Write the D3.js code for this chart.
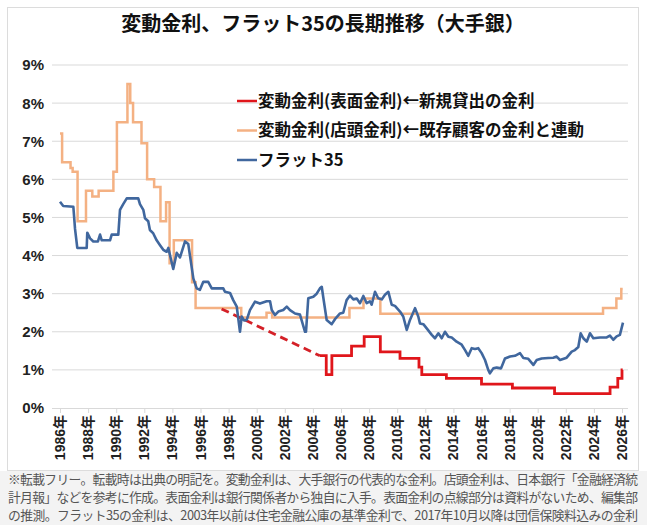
<!DOCTYPE html>
<meta charset="utf-8">
<style>
body { margin: 0; background: #fff; }
text { font-family: "Liberation Sans", "Noto Sans CJK JP", sans-serif; }
.cjk { font-family: "Noto Sans CJK JP", sans-serif; }
</style>
<svg width="647" height="525"></svg>
<script src="https://d3js.org/d3.v7.min.js"></script>
<script>

// tick labels
var xTicks = [1986,1988,1990,1992,1994,1996,1998,2000,2002,2004,2006,2008,2010,2012,2014,2016,2018,2020,2022,2024,2026];
var yTicks = [0,1,2,3,4,5,6,7,8,9];

// 変動金利(表面金利) : dashed guess part + step data
var hyomenDash = [[1997.5,2.6],[2004.5,1.37]];
var hyomen = [[2004.5,1.375],[2004.95,0.875],[2005.35,1.375],[2006.75,1.625],[2007.65,1.875],[2008.8,1.475],
  [2010.2,1.3],[2011.55,1.075],[2011.75,0.875],[2013.5,0.775],[2016.0,0.625],[2018.2,0.525],[2021.2,0.375],
  [2025.15,0.55],[2025.7,0.775],[2026.0,1.0],[2026.05,1.0]];

// 変動金利(店頭金利) : step data
var tento = [[1986.0,7.2],[1986.15,6.45],[1986.75,6.3],[1986.9,6.2],[1987.25,4.9],[1987.85,5.7],[1988.3,5.55],
  [1988.75,5.7],[1989.8,6.2],[1990.05,7.5],[1990.8,8.5],[1991.0,8.0],[1991.2,7.5],[1991.8,6.95],[1992.2,6.0],
  [1992.7,5.8],[1993.15,4.9],[1993.55,5.4],[1993.8,3.8],[1994.1,4.4],[1995.4,3.3],[1995.65,2.625],[1998.9,2.375],
  [2000.7,2.5],[2001.1,2.375],[2006.6,2.625],[2007.6,2.875],[2008.8,2.475],[2024.65,2.625],[2025.6,2.875],
  [2025.95,3.125],[2026.05,3.125]];

// フラット35
var flat35 = [[1986.0,5.41],[1986.23,5.3],[1986.95,5.28],[1987.07,4.7],[1987.23,4.2],[1987.9,4.2],[1987.94,4.6],
  [1988.14,4.45],[1988.37,4.37],[1988.7,4.37],[1988.85,4.55],[1988.97,4.4],[1989.56,4.4],[1989.68,4.55],
  [1990.15,4.55],[1990.27,5.2],[1990.5,5.35],[1990.75,5.5],[1991.57,5.5],[1991.69,5.35],[1991.93,5.2],
  [1992.05,4.98],[1992.28,4.9],[1992.4,4.67],[1992.64,4.58],[1992.88,4.4],[1993.12,4.27],[1993.35,4.15],
  [1993.59,4.1],[1993.71,4.2],[1993.88,3.93],[1994.06,3.65],[1994.31,4.07],[1994.54,3.95],[1994.9,4.37],
  [1995.13,4.3],[1995.49,3.4],[1995.73,3.14],[1995.96,3.1],[1996.2,3.31],[1996.55,3.31],[1996.8,3.14],
  [1997.62,3.14],[1997.74,3.05],[1998.1,3.02],[1998.33,2.83],[1998.58,2.66],[1998.81,2.0],[1998.93,2.4],
  [1999.1,2.3],[1999.29,2.31],[1999.52,2.57],[1999.88,2.79],[2000.23,2.74],[2000.71,2.8],[2000.95,2.8],
  [2001.07,2.57],[2001.3,2.44],[2001.54,2.53],[2001.89,2.57],[2002.14,2.66],[2002.37,2.57],[2002.73,2.48],
  [2003.08,2.45],[2003.44,2.0],[2003.51,2.0],[2003.67,2.88],[2004.03,2.92],[2004.27,3.0],[2004.5,3.14],
  [2004.63,3.18],[2004.74,2.9],[2004.98,2.31],[2005.34,2.2],[2005.57,2.33],[2005.93,2.48],[2006.16,2.5],
  [2006.4,2.83],[2006.64,2.95],[2006.88,2.85],[2007.12,2.87],[2007.35,2.75],[2007.59,2.94],[2007.83,2.75],
  [2008.06,2.8],[2008.18,2.71],[2008.42,3.05],[2008.65,2.88],[2008.9,2.85],[2009.13,2.97],[2009.37,3.05],
  [2009.61,2.71],[2009.84,2.68],[2010.2,2.53],[2010.43,2.4],[2010.68,2.05],[2010.91,2.31],[2011.27,2.62],
  [2011.5,2.4],[2011.62,2.22],[2011.86,2.2],[2012.1,2.09],[2012.46,1.92],[2012.69,1.83],[2012.93,1.96],
  [2013.17,1.83],[2013.4,2.0],[2013.64,1.87],[2013.88,1.85],[2014.23,1.74],[2014.59,1.66],[2014.83,1.52],
  [2015.06,1.37],[2015.3,1.57],[2015.54,1.55],[2015.77,1.57],[2016.01,1.44],[2016.25,1.26],[2016.48,1.0],
  [2016.6,0.91],[2016.84,1.04],[2017.08,1.06],[2017.39,1.04],[2017.67,1.3],[2018.03,1.35],[2018.38,1.37],
  [2018.74,1.44],[2018.98,1.31],[2019.33,1.29],[2019.69,1.13],[2019.93,1.26],[2020.28,1.3],[2020.75,1.31],
  [2021.11,1.32],[2021.35,1.35],[2021.59,1.26],[2022.06,1.32],[2022.42,1.48],[2022.65,1.52],[2022.89,1.6],
  [2023.06,1.96],[2023.25,1.83],[2023.49,1.74],[2023.72,1.96],[2023.96,1.83],[2024.43,1.85],[2024.91,1.85],
  [2025.14,1.9],[2025.38,1.79],[2025.62,1.88],[2025.85,1.92],[2026.07,2.24]];

var legendLabels = ["変動金利(表面金利)←新規貸出の金利","変動金利(店頭金利)←既存顧客の金利と連動","フラット35"];
var colors = ["#e0161b","#f4b183","#40679e"];

var notes = ["※転載フリー。転載時は出典の明記を。変動金利は、大手銀行の代表的な金利。店頭金利は、日本銀行「金融経済統",
  "計月報」などを参考に作成。表面金利は銀行関係者から独自に入手。表面金利の点線部分は資料がないため、編集部",
  "の推測。フラット35の金利は、2003年以前は住宅金融公庫の基準金利で、2017年10月以降は団信保険料込みの金利"];

var svg = d3.select("svg");

// footnote background + frame
svg.append("rect").attr("x",0).attr("y",471).attr("width",647).attr("height",54).attr("fill","#f3f3f3");
svg.append("rect").attr("x",7.5).attr("y",7.5).attr("width",631).attr("height",463)
  .attr("fill","#fff").attr("stroke","#dcdcdc");

var x = d3.scaleLinear().domain([1986, 2026]).range([60, 622]);
var y = d3.scaleLinear().domain([0, 9]).range([408, 65]);

// title
svg.append("text").attr("class","cjk").attr("x",323).attr("y",31)
  .attr("text-anchor","middle").style("font-size","20px").style("font-weight","bold").attr("fill","#111")
  .text("変動金利、フラット35の長期推移（大手銀）");

// grid
svg.append("g").selectAll("line").data(yTicks.slice(1)).join("line")
  .attr("x1",52).attr("x2",628)
  .attr("y1",function(d){return y(d);}).attr("y2",function(d){return y(d);})
  .attr("stroke","#d9d9d9").attr("stroke-width",1);

// y labels
svg.append("g").selectAll("text").data(yTicks).join("text")
  .attr("x",44).attr("y",function(d){return y(d);}).attr("dy","0.36em")
  .attr("text-anchor","end").style("font-size","15px").style("font-weight","bold").attr("fill","#222")
  .text(function(d){return d+"%";});

// x axis
var xAxis = svg.append("g").attr("transform","translate(0,"+y(0)+")")
  .call(d3.axisBottom(x).tickValues(xTicks).tickSize(5).tickFormat(""));
xAxis.select(".domain").attr("stroke","#d9d9d9").attr("d","M52,0.5H628");
xAxis.selectAll(".tick line").attr("stroke","#d9d9d9");

svg.append("g").selectAll("text").data(xTicks).join("text")
  .attr("transform",function(d){return "translate("+(x(d)+5)+",415) rotate(-90)";})
  .attr("text-anchor","end").style("font-size","14px").style("font-weight","bold").attr("fill","#222")
  .text(function(d){return d+"年";});

// lines
var stepLine = d3.line().x(function(d){return x(d[0]);}).y(function(d){return y(d[1]);}).curve(d3.curveStepAfter);
var plainLine = d3.line().x(function(d){return x(d[0]);}).y(function(d){return y(d[1]);});

svg.append("path").datum(tento).attr("d",stepLine).attr("fill","none")
  .attr("stroke",colors[1]).attr("stroke-width",2.5);
svg.append("path").datum(hyomenDash).attr("d",plainLine).attr("fill","none")
  .attr("stroke","#d42027").attr("stroke-width",2.8).attr("stroke-dasharray","8,5");
svg.append("path").datum(hyomen).attr("d",stepLine).attr("fill","none")
  .attr("stroke",colors[0]).attr("stroke-width",2.8);
svg.append("path").datum(flat35).attr("d",plainLine).attr("fill","none")
  .attr("stroke",colors[2]).attr("stroke-width",2.6).attr("stroke-linejoin","round");

// legend
var lg = svg.append("g").selectAll("g").data(legendLabels).join("g")
  .attr("transform",function(d,i){return "translate(237,"+(101+i*29.5)+")";});
lg.append("line").attr("x1",0).attr("x2",20).attr("y1",0).attr("y2",0)
  .attr("stroke",function(d,i){return colors[i];}).attr("stroke-width",2.5);
lg.append("text").attr("class","cjk").attr("x",21).attr("dy","0.36em")
  .style("font-size","16.5px").style("font-weight","bold").attr("fill","#111")
  .text(function(d){return d;});

// footnote
svg.append("g").selectAll("text").data(notes).join("text").attr("class","cjk")
  .attr("x",8).attr("y",function(d,i){return 484+i*18;})
  .attr("textLength",630).attr("lengthAdjust","spacing")
  .style("font-size","12.8px").attr("fill","#555")
  .text(function(d){return d;});

</script>
